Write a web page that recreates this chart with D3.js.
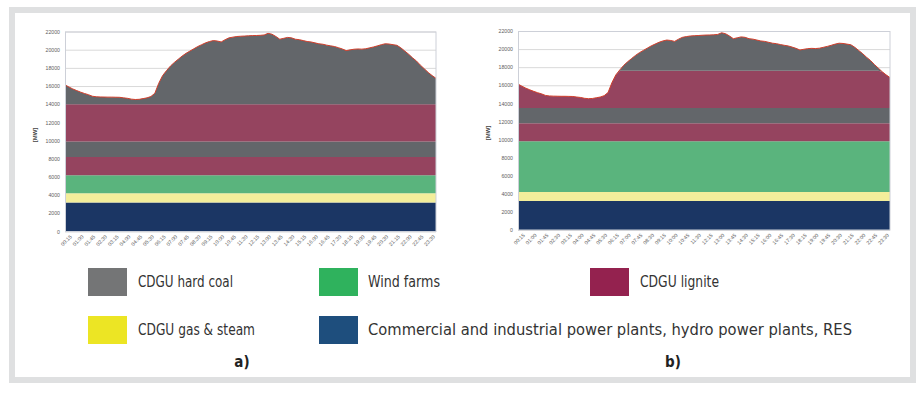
<!DOCTYPE html>
<html>
<head>
<meta charset="utf-8">
<script src="https://cdn.jsdelivr.net/npm/d3@7"></script>
<style>
  html, body { margin: 0; padding: 0; background: #ffffff; }
  svg { display: block; }
</style>
</head>
<body>
<svg id="fig" width="918" height="394"></svg>
<script>
// Quarter-hour time stamps of the day
const times = [
  "00:15","00:30","00:45","01:00","01:15","01:30","01:45","02:00","02:15","02:30","02:45","03:00",
  "03:15","03:30","03:45","04:00","04:15","04:30","04:45","05:00","05:15","05:30","05:45","06:00",
  "06:15","06:30","06:45","07:00","07:15","07:30","07:45","08:00","08:15","08:30","08:45","09:00",
  "09:15","09:30","09:45","10:00","10:15","10:30","10:45","11:00","11:15","11:30","11:45","12:00",
  "12:15","12:30","12:45","13:00","13:15","13:30","13:45","14:00","14:15","14:30","14:45","15:00",
  "15:15","15:30","15:45","16:00","16:15","16:30","16:45","17:00","17:15","17:30","17:45","18:00",
  "18:15","18:30","18:45","19:00","19:15","19:30","19:45","20:00","20:15","20:30","20:45","21:00",
  "21:15","21:30","21:45","22:00","22:15","22:30","22:45","23:00","23:15","23:30","23:45","24:00"
];

// System demand [MW]
const demand = [
  16130,15900,15680,15500,15330,15180,15050,14880,14820,14800,14790,14780,
  14780,14770,14760,14700,14650,14560,14520,14540,14620,14700,14850,15200,
  16300,17150,17700,18200,18600,18950,19300,19600,19850,20100,20350,20550,
  20750,20900,21000,20950,20850,21100,21300,21380,21450,21480,21500,21530,
  21550,21560,21580,21620,21800,21700,21450,21150,21250,21350,21300,21150,
  21100,21000,20900,20850,20750,20650,20600,20500,20420,20350,20220,20080,
  19900,19980,20050,20080,20060,20100,20200,20300,20420,20550,20650,20620,
  20550,20480,20200,19850,19500,19100,18750,18300,17900,17500,17150,16850
];

// Dispatch order (bottom to top) and the block sizes [MW] in each case
const blockSources = ["other", "gas", "wind", "lignite", "coal", "lignite", "coal"];
const blocksA = [3200, 1000, 2000, 2000, 1700, 4100, Infinity];
const blocksB = [3200, 1000, 5600, 2000, 1700, 4100, Infinity];

const yTicks = [0, 2000, 4000, 6000, 8000, 10000, 12000, 14000, 16000, 18000, 20000, 22000];
const xTickLabels = times.filter((t, i) => i % 3 === 0);

const legendItems = [
  { key: "coal",    label: "CDGU hard coal" },
  { key: "wind",    label: "Wind farms" },
  { key: "lignite", label: "CDGU lignite" },
  { key: "gas",     label: "CDGU gas & steam" },
  { key: "other",   label: "Commercial and industrial power plants, hydro power plants, RES" }
];
const panelLabels = ["a)", "b)"];

// ---- styling ----
const areaColor = {
  other: "#1b3664", gas: "#f3ee9b", wind: "#5ab47d", lignite: "#95445f", coal: "#63666a"
};
const legendColor = {
  coal: "#747576", wind: "#2fb25d", lignite: "#94224f", gas: "#ece524", other: "#1e4e7d"
};

const svg = d3.select("#fig");

// outer frame
svg.append("rect")
  .attr("x", 12).attr("y", 10).attr("width", 901).attr("height", 370)
  .attr("fill", "#ffffff").attr("stroke", "#dfe0e1").attr("stroke-width", 6);

function drawChart(left, top, width, height, blocks, mwX, mwY) {
  const g = svg.append("g").attr("transform", `translate(${left},${top})`);
  const x = d3.scalePoint().domain(times).range([0, width]);
  const y = d3.scaleLinear().domain([0, 22000]).range([height, 0]);

  // grid
  g.append("g").selectAll("line").data(yTicks).join("line")
    .attr("x1", 0).attr("x2", width)
    .attr("y1", d => y(d) + 0.5).attr("y2", d => y(d) + 0.5)
    .attr("stroke", "#d9d9d9").attr("stroke-width", 1);

  // stacked dispatch blocks clipped to demand
  const tops = d3.cumsum(blocks.map(v => v));
  const pts = times.map((t, i) => ({ t, v: demand[i] }));
  blocks.forEach((b, k) => {
    const lo = k === 0 ? 0 : tops[k - 1];
    const hi = tops[k];
    const area = d3.area()
      .x(d => x(d.t))
      .y0(d => y(Math.min(lo, d.v)))
      .y1(d => y(Math.min(hi, d.v)));
    g.append("path").datum(pts)
      .attr("d", area)
      .attr("fill", areaColor[blockSources[k]]);
  });

  // demand curve
  g.append("path").datum(pts)
    .attr("d", d3.line().x(d => x(d.t)).y(d => y(d.v)))
    .attr("fill", "none").attr("stroke", "#d23f2c").attr("stroke-width", 1);

  // plot frame
  g.append("rect").attr("x", 0.5).attr("y", 0.5)
    .attr("width", width - 0.5).attr("height", height - 0.5)
    .attr("fill", "none").attr("stroke", "#cdd0d8").attr("stroke-width", 1);

  // y axis
  const ya = g.append("g").call(d3.axisLeft(y).tickValues(yTicks).tickFormat(d3.format("d"))
    .tickSize(0).tickPadding(5));
  ya.select(".domain").remove();
  ya.selectAll("text").attr("font-family", "Liberation Sans, Arial, sans-serif")
    .attr("font-size", 5.2).attr("fill", "#5e5e5e");

  // x axis
  const xa = g.append("g").attr("transform", `translate(0,${height})`)
    .call(d3.axisBottom(x).tickValues(xTickLabels).tickSize(0).tickPadding(2));
  xa.select(".domain").remove();
  xa.selectAll("text")
    .attr("font-family", "Liberation Sans, Arial, sans-serif")
    .attr("font-size", 5.2).attr("fill", "#5e5e5e")
    .attr("text-anchor", "end")
    .attr("transform", "translate(4,3) rotate(-45)")
    .attr("dy", "0.35em");

  // unit
  svg.append("text")
    .attr("transform", `translate(${mwX},${mwY}) rotate(-90)`)
    .attr("text-anchor", "middle")
    .attr("font-family", "Liberation Sans, Arial, sans-serif")
    .attr("font-weight", "bold").attr("font-size", 6).attr("fill", "#444")
    .text("[MW]");
}

drawChart(65, 31.5, 371, 200, blocksA, 37, 135);
drawChart(518, 31, 372, 199, blocksB, 490, 133);

// legend
const legendFont = "'Liberation Sans Narrow', 'DejaVu Sans Condensed', 'Roboto', sans-serif";
const legendPos = [
  { sx: 88,  sy: 268, tx: 138, w: 95 },
  { sx: 319, sy: 268, tx: 368, w: 72 },
  { sx: 590, sy: 268, tx: 640, w: 79 },
  { sx: 88,  sy: 316, tx: 138, w: 117 },
  { sx: 319, sy: 316, tx: 368, w: 484 }
];
const lg = svg.append("g");
legendItems.forEach((it, i) => {
  const p = legendPos[i];
  lg.append("rect").attr("x", p.sx).attr("y", p.sy).attr("width", 39).attr("height", 28)
    .attr("fill", legendColor[it.key]);
  lg.append("text").attr("x", p.tx).attr("y", p.sy + 19)
    .attr("font-family", legendFont).attr("font-size", 15).attr("fill", "#333")
    .attr("textLength", p.w).attr("lengthAdjust", "spacingAndGlyphs")
    .text(it.label);
});

// panel letters
svg.selectAll(".panel").data(panelLabels).join("text")
  .attr("class", "panel")
  .attr("x", (d, i) => [242, 673][i]).attr("y", 367)
  .attr("text-anchor", "middle")
  .attr("font-family", "'DejaVu Sans Condensed', 'Liberation Sans', sans-serif")
  .attr("font-weight", "bold").attr("font-size", 15).attr("fill", "#222")
  .text(d => d);
</script>
</body>
</html>
